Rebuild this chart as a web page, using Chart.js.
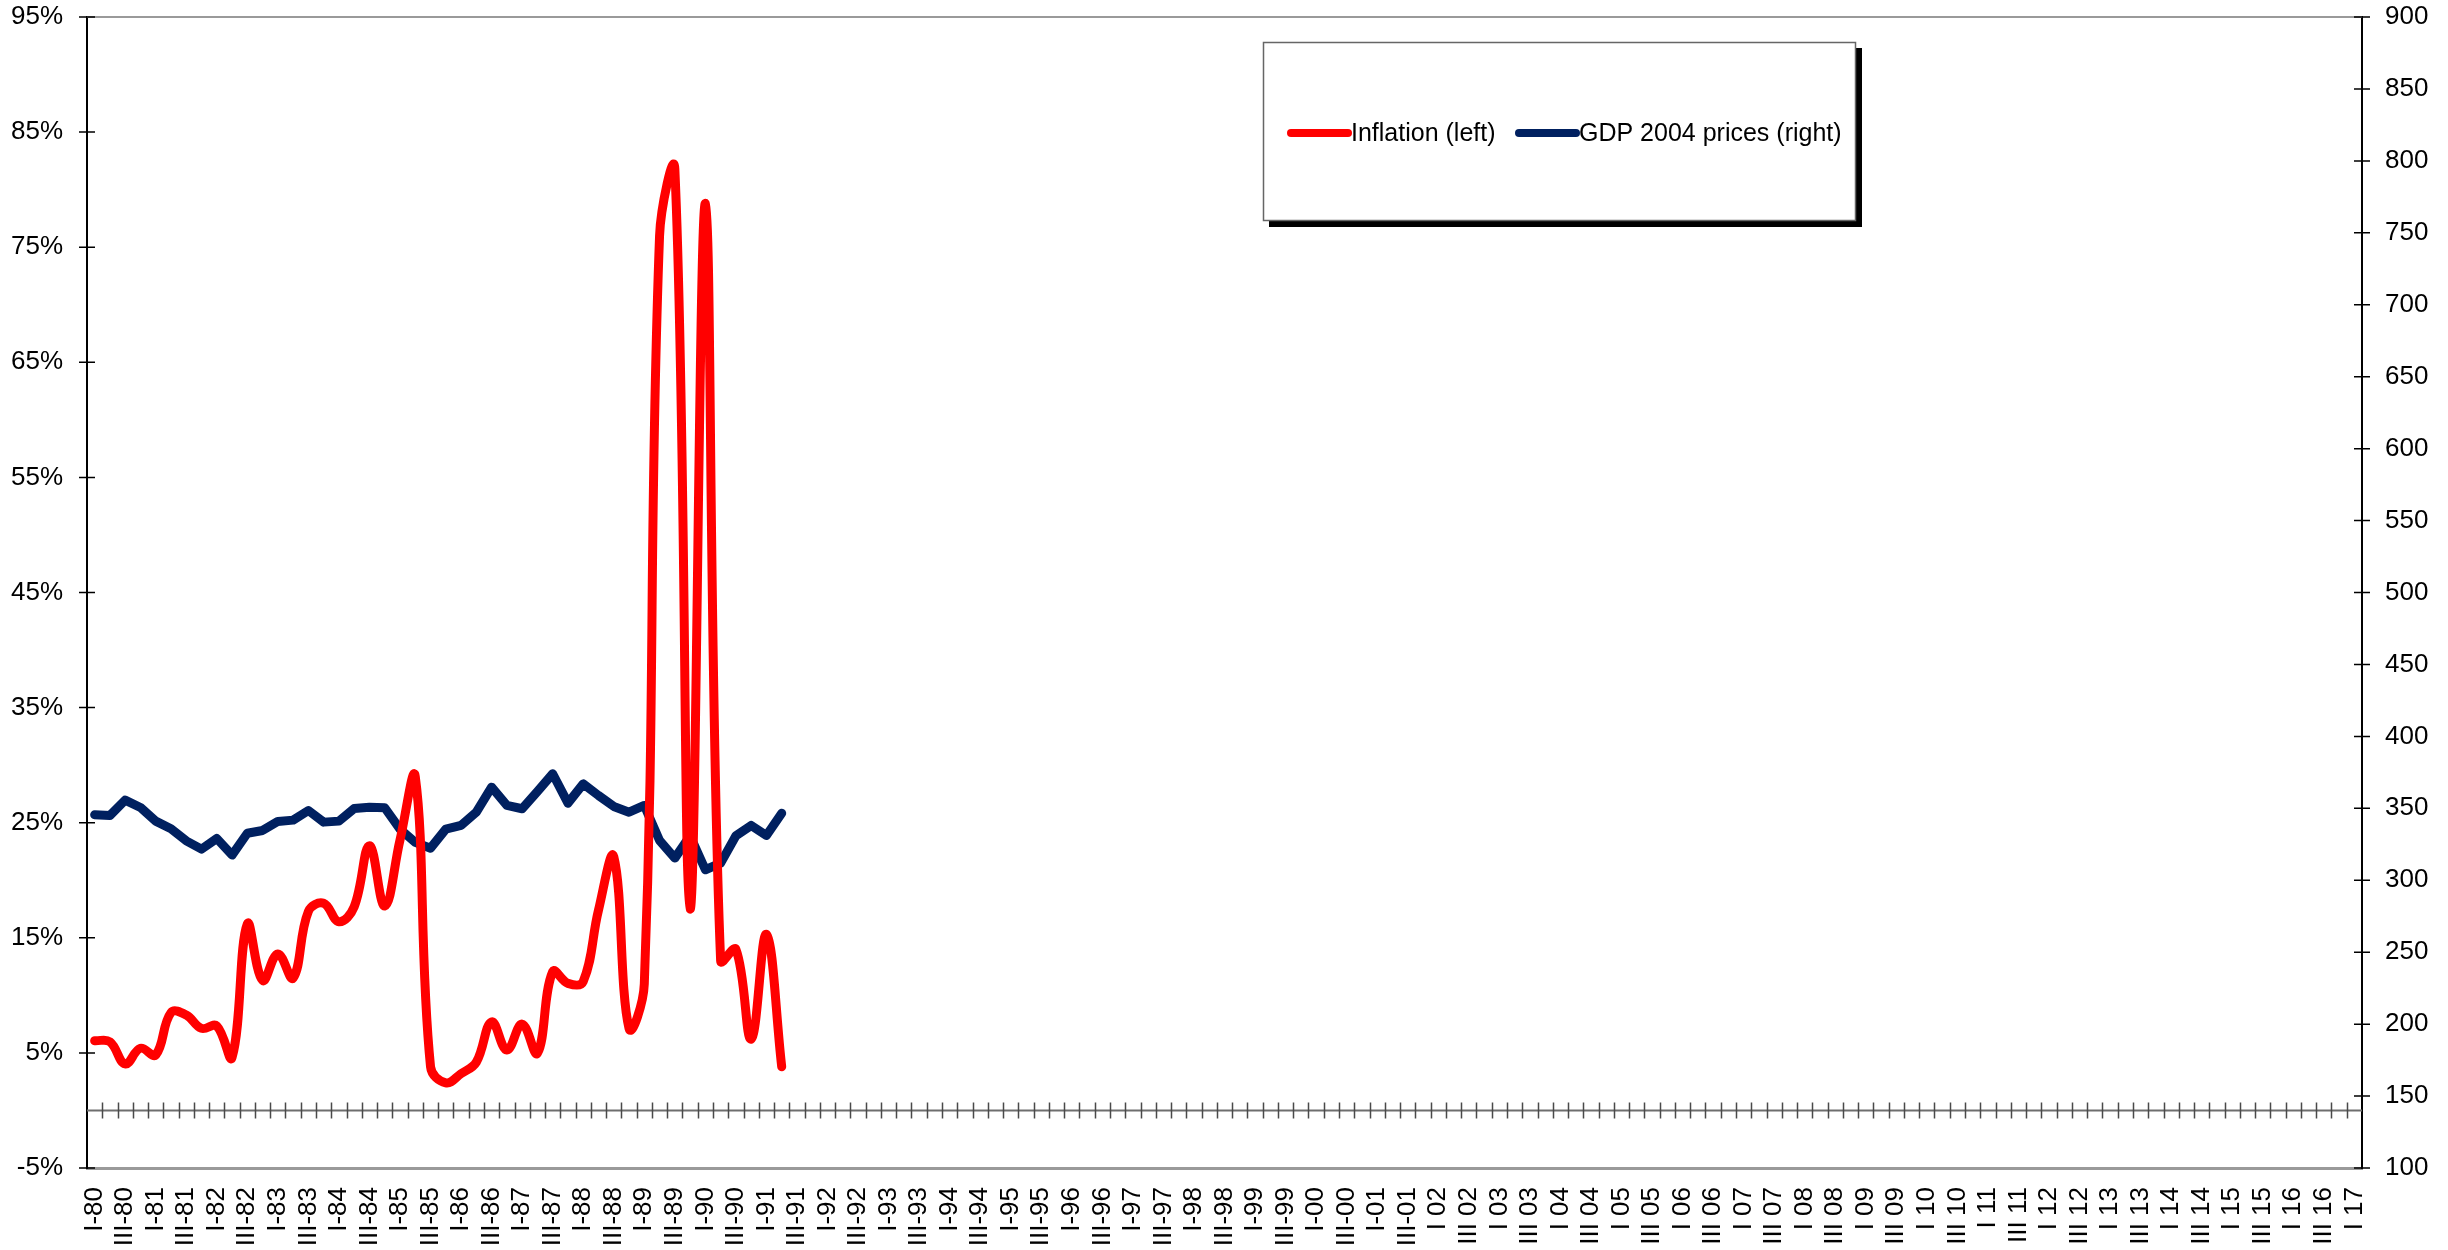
<!DOCTYPE html>
<html>
<head>
<meta charset="utf-8">
<title>Inflation and GDP</title>
<script src="https://cdn.jsdelivr.net/npm/chart.js@4.4.1/dist/chart.umd.min.js"></script>
<style>
  html, body { margin: 0; padding: 0; background: #ffffff; }
  #wrap { width: 2448px; height: 1250px; position: relative; }
  canvas { display: block; }
</style>
</head>
<body>
<div id="wrap"><canvas id="chart" width="2448" height="1250"></canvas></div>
<script>
// Quarterly categories, I-80 through I 17
const years = ['80','81','82','83','84','85','86','87','88','89','90','91','92','93','94','95','96','97','98','99',
               '00','01','02','03','04','05','06','07','08','09','10','11','12','13','14','15','16','17'];
const quarterNames = ['I', 'II', 'III', 'IV'];
// Years from 2002 onward are written with a space instead of a hyphen
const hyphenYears = ['80','81','82','83','84','85','86','87','88','89','90','91','92','93','94','95','96','97','98','99','00','01'];
const quarterCount = 149;

const categories = [];
years.forEach(y => {
  quarterNames.forEach(q => {
    categories.push(q + (hyphenYears.includes(y) ? '-' : ' ') + y);
  });
});
categories.length = quarterCount;

// Inflation, % (left axis), I-80 .. II-91
const inflation = [6.06, 5.97, 4.04, 5.40, 4.82, 8.5, 8.29, 7.13, 7.34, 4.6,
                   16.2, 11.3, 13.6, 11.5, 17.3, 18.0, 16.4, 17.7, 23.0, 17.76,
                   23.5, 29.0, 3.8, 2.4, 3.2, 4.2, 7.7, 5.25, 7.5, 4.96,
                   12.06, 11.04, 11.2, 17.4, 22.05, 7.13, 11.0, 76.0, 81.8, 17.5,
                   78.8, 13.0, 14.0, 6.2, 15.3, 3.8];

// GDP at 2004 prices (right axis), I-80 .. II-91
const gdp = [345.5, 345.0, 355.7, 350.6, 341.1, 335.8, 327.4, 321.6, 329.0, 317.5,
             332.7, 334.6, 340.9, 341.8, 348.5, 340.4, 341.1, 349.9, 350.8, 350.4,
             335.5, 326.3, 322.3, 335.5, 338.1, 347.3, 364.7, 352.0, 349.7, 361.7,
             374.0, 353.6, 367.0, 358.9, 351.3, 347.3, 352.0, 327.6, 315.4, 330.9,
             307.3, 311.9, 330.9, 338.1, 331.1, 346.6];

const seriesNames = ['Inflation (left)', 'GDP 2004 prices (right)'];
const seriesColors = ['#ff0000', '#002060'];

const FONT = '"Liberation Sans", Arial, sans-serif';
const TICK_FONT = { family: FONT, size: 26 };

// Crossing tick marks, the top frame line and the 0% category line
const axisMarks = {
  id: 'axisMarks',
  beforeDatasetsDraw(chart) {
    const { ctx, chartArea: a, scales } = chart;
    const half = 8;
    ctx.save();
    ctx.lineCap = 'butt';

    // top frame
    ctx.strokeStyle = '#9a9a9a';
    ctx.lineWidth = 2;
    ctx.beginPath();
    ctx.moveTo(a.left, a.top);
    ctx.lineTo(a.right, a.top);
    ctx.stroke();

    // category axis crossing the left scale at 0%
    const y0 = scales.y.getPixelForValue(0);
    ctx.strokeStyle = '#6e6e6e';
    ctx.lineWidth = 2;
    ctx.beginPath();
    ctx.moveTo(a.left, y0);
    ctx.lineTo(a.right, y0);
    ctx.stroke();

    ctx.strokeStyle = '#4a4a4a';
    ctx.lineWidth = 1.5;
    ctx.beginPath();
    for (let i = 1; i < categories.length; i++) {
      const x = Math.round(scales.x.getPixelForValue(i - 0.5)) + 0.5;
      ctx.moveTo(x, y0 - half);
      ctx.lineTo(x, y0 + half);
    }
    ctx.stroke();

    // value axis ticks
    ctx.strokeStyle = '#000000';
    ctx.lineWidth = 1.5;
    ctx.beginPath();
    scales.y.ticks.forEach(t => {
      const y = scales.y.getPixelForValue(t.value);
      ctx.moveTo(a.left - half, y);
      ctx.lineTo(a.left + half, y);
    });
    scales.y1.ticks.forEach(t => {
      const y = scales.y1.getPixelForValue(t.value);
      ctx.moveTo(a.right - half, y);
      ctx.lineTo(a.right + half, y);
    });
    ctx.stroke();
    ctx.restore();
  }
};

// Framed legend with a drop shadow
const boxedLegend = {
  id: 'boxedLegend',
  afterDraw(chart) {
    const { ctx } = chart;
    const box = { x: 1263, y: 42, w: 593, h: 179 };
    const shadow = 6;
    ctx.save();
    ctx.fillStyle = '#000000';
    ctx.fillRect(box.x + shadow, box.y + shadow, box.w, box.h);
    ctx.fillStyle = '#ffffff';
    ctx.fillRect(box.x, box.y, box.w, box.h);
    ctx.strokeStyle = '#666666';
    ctx.lineWidth = 1.5;
    ctx.strokeRect(box.x + 0.5, box.y + 0.5, box.w - 1, box.h - 1);

    const cy = 133;
    const items = [
      { x0: 1291, x1: 1348, tx: 1351 },
      { x0: 1519, x1: 1576, tx: 1579 }
    ];
    ctx.font = '25px ' + FONT;
    ctx.textBaseline = 'middle';
    ctx.textAlign = 'left';
    chart.data.datasets.forEach((ds, i) => {
      const it = items[i];
      ctx.strokeStyle = ds.borderColor;
      ctx.lineWidth = 8;
      ctx.lineCap = 'round';
      ctx.beginPath();
      ctx.moveTo(it.x0, cy);
      ctx.lineTo(it.x1, cy);
      ctx.stroke();
      ctx.fillStyle = '#000000';
      ctx.fillText(ds.label, it.tx, cy + 1);
    });
    ctx.restore();
  }
};

// Keep the plot frame at fixed offsets regardless of label overhang
function fixVertical(width) {
  return scale => {
    scale.width = width;
    scale.paddingTop = 0;
    scale.paddingBottom = 0;
  };
}

new Chart(document.getElementById('chart'), {
  type: 'line',
  data: {
    labels: categories,
    datasets: [
      {
        label: seriesNames[0],
        data: inflation,
        yAxisID: 'y',
        borderColor: seriesColors[0],
        backgroundColor: seriesColors[0],
        borderWidth: 9,
        pointRadius: 0,
        pointHoverRadius: 0,
        tension: 0.4,
        borderCapStyle: 'round',
        borderJoinStyle: 'round',
        fill: false
      },
      {
        label: seriesNames[1],
        data: gdp,
        yAxisID: 'y1',
        borderColor: seriesColors[1],
        backgroundColor: seriesColors[1],
        borderWidth: 9,
        pointRadius: 0,
        pointHoverRadius: 0,
        tension: 0,
        borderCapStyle: 'round',
        borderJoinStyle: 'round',
        fill: false
      }
    ]
  },
  options: {
    responsive: false,
    animation: false,
    devicePixelRatio: 1,
    layout: { padding: { top: 17, left: 0, right: 0, bottom: 0 } },
    plugins: {
      legend: { display: false },
      tooltip: { enabled: false }
    },
    scales: {
      x: {
        type: 'category',
        offset: true,
        grid: { display: false, drawTicks: false, offset: true },
        border: { display: true, color: '#9a9a9a', width: 3 },
        ticks: {
          autoSkip: false,
          maxRotation: 90,
          minRotation: 90,
          padding: 19,
          color: '#000000',
          font: TICK_FONT,
          callback: function (value, index) {
            return index % 2 === 0 ? this.getLabelForValue(value) : '';
          }
        },
        afterFit(scale) {
          scale.height = 82;
          scale.paddingLeft = 0;
          scale.paddingRight = 0;
        }
      },
      y: {
        position: 'left',
        min: -5,
        max: 95,
        grid: { display: false, drawTicks: false },
        border: { display: true, color: '#000000', width: 2 },
        ticks: {
          stepSize: 10,
          padding: 24,
          color: '#000000',
          font: TICK_FONT,
          callback: v => v + '%'
        },
        afterFit: fixVertical(87)
      },
      y1: {
        position: 'right',
        min: 100,
        max: 900,
        grid: { display: false, drawTicks: false },
        border: { display: true, color: '#000000', width: 2 },
        ticks: {
          stepSize: 50,
          padding: 23,
          color: '#000000',
          font: TICK_FONT
        },
        afterFit: fixVertical(86)
      }
    }
  },
  plugins: [axisMarks, boxedLegend]
});
</script>
</body>
</html>
